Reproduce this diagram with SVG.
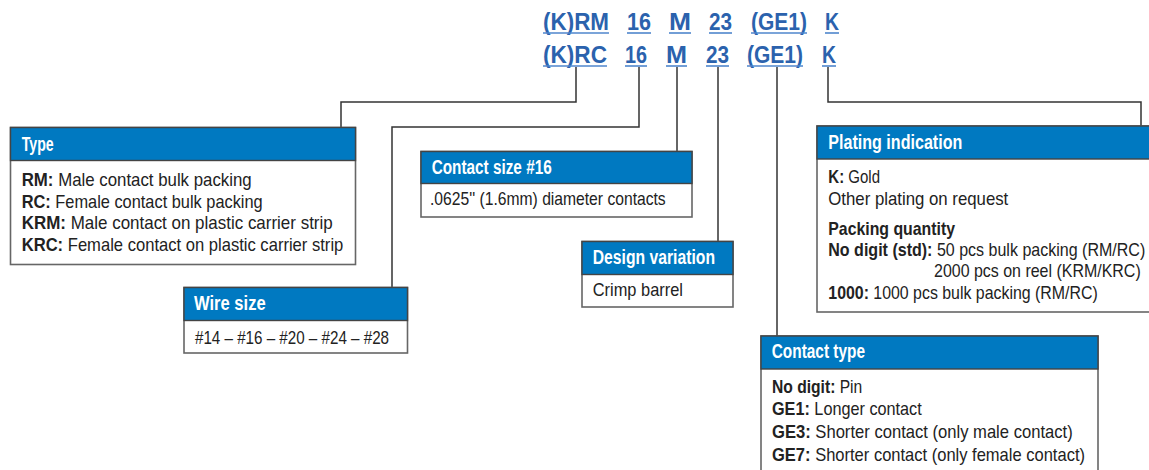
<svg xmlns="http://www.w3.org/2000/svg" width="1149" height="470" viewBox="0 0 1149 470">
<style>
text{font-family:"Liberation Sans",Arial,sans-serif;}
.code{font-size:24px;font-weight:bold;fill:#2b62ad;}
.ul{stroke:#4f86cc;stroke-width:1.6;}
.box{fill:#fff;stroke:#666;stroke-width:1.6;}
.hd{fill:#0079c1;stroke:#444;stroke-width:1.4;}
.ht{font-size:19.5px;font-weight:bold;fill:#fff;}
.bt{font-size:18.5px;fill:#222;}
.b{font-weight:bold;}
.con{fill:none;stroke:#333;stroke-width:1.5;}
</style>
<rect width="1149" height="470" fill="#fff"/>
<g id="code">
<text class="code" x="543" y="29.5" textLength="66" lengthAdjust="spacingAndGlyphs">(K)RM</text>
<text class="code" x="627" y="29.5" textLength="24" lengthAdjust="spacingAndGlyphs">16</text>
<text class="code" x="669" y="29.5" textLength="22" lengthAdjust="spacingAndGlyphs">M</text>
<text class="code" x="709" y="29.5" textLength="23" lengthAdjust="spacingAndGlyphs">23</text>
<text class="code" x="751" y="29.5" textLength="56" lengthAdjust="spacingAndGlyphs">(GE1)</text>
<text class="code" x="825" y="29.5" textLength="14" lengthAdjust="spacingAndGlyphs">K</text>
<text class="code" x="543" y="62.5" textLength="64" lengthAdjust="spacingAndGlyphs">(K)RC</text>
<text class="code" x="625" y="62.5" textLength="22" lengthAdjust="spacingAndGlyphs">16</text>
<text class="code" x="666" y="62.5" textLength="21" lengthAdjust="spacingAndGlyphs">M</text>
<text class="code" x="706" y="62.5" textLength="23" lengthAdjust="spacingAndGlyphs">23</text>
<text class="code" x="747" y="62.5" textLength="56" lengthAdjust="spacingAndGlyphs">(GE1)</text>
<text class="code" x="822" y="62.5" textLength="14" lengthAdjust="spacingAndGlyphs">K</text>
<line class="ul" x1="543" y1="33" x2="609" y2="33"/>
<line class="ul" x1="627" y1="33" x2="651" y2="33"/>
<line class="ul" x1="669" y1="33" x2="691" y2="33"/>
<line class="ul" x1="709" y1="33" x2="732" y2="33"/>
<line class="ul" x1="751" y1="33" x2="807" y2="33"/>
<line class="ul" x1="825" y1="33" x2="839" y2="33"/>
<line class="ul" x1="543" y1="66" x2="607" y2="66"/>
<line class="ul" x1="625" y1="66" x2="647" y2="66"/>
<line class="ul" x1="666" y1="66" x2="687" y2="66"/>
<line class="ul" x1="706" y1="66" x2="729" y2="66"/>
<line class="ul" x1="747" y1="66" x2="803" y2="66"/>
<line class="ul" x1="822" y1="66" x2="836" y2="66"/>
</g>
<g id="connectors">
<polyline class="con" points="576,67 576,102 341,102 341,127"/>
<polyline class="con" points="639,67 639,127 392,127 392,287"/>
<polyline class="con" points="677,67 677,151"/>
<polyline class="con" points="718,67 718,241"/>
<polyline class="con" points="777,67 777,336"/>
<polyline class="con" points="828,67 828,102 1141,102 1141,126"/>
</g>
<g id="type">
<rect class="box" x="10.5" y="127.5" width="345" height="137"/>
<rect class="hd" x="10.5" y="127.5" width="345" height="33"/>
<text class="ht" x="21.7" y="150.5" textLength="32" lengthAdjust="spacingAndGlyphs">Type</text>
<text class="bt" x="21.7" y="186" textLength="230" lengthAdjust="spacingAndGlyphs"><tspan class="b">RM:</tspan> Male contact bulk packing</text>
<text class="bt" x="21.7" y="207.5" textLength="241" lengthAdjust="spacingAndGlyphs"><tspan class="b">RC:</tspan> Female contact bulk packing</text>
<text class="bt" x="21.7" y="229" textLength="311" lengthAdjust="spacingAndGlyphs"><tspan class="b">KRM:</tspan> Male contact on plastic carrier strip</text>
<text class="bt" x="21.7" y="251" textLength="321.6" lengthAdjust="spacingAndGlyphs"><tspan class="b">KRC:</tspan> Female contact on plastic carrier strip</text>
</g>
<g id="wire">
<rect class="box" x="184" y="287.5" width="223.5" height="65.5"/>
<rect class="hd" x="184" y="287.5" width="223.5" height="33"/>
<text class="ht" x="194" y="309.5" textLength="71.7" lengthAdjust="spacingAndGlyphs">Wire size</text>
<text class="bt" x="195" y="344" textLength="194" lengthAdjust="spacingAndGlyphs">#14 – #16 – #20 – #24 – #28</text>
</g>
<g id="contactsize">
<rect class="box" x="421" y="151.5" width="271" height="65.5"/>
<rect class="hd" x="421" y="151.5" width="271" height="32"/>
<text class="ht" x="431.7" y="173.8" textLength="120" lengthAdjust="spacingAndGlyphs">Contact size #16</text>
<text class="bt" x="430" y="205" textLength="235.7" lengthAdjust="spacingAndGlyphs">.0625'' (1.6mm) diameter contacts</text>
</g>
<g id="design">
<rect class="box" x="582" y="241.5" width="151" height="65.5"/>
<rect class="hd" x="582" y="241.5" width="151" height="33"/>
<text class="ht" x="592.7" y="263.8" textLength="122.3" lengthAdjust="spacingAndGlyphs">Design variation</text>
<text class="bt" x="592.7" y="296" textLength="90.3" lengthAdjust="spacingAndGlyphs">Crimp barrel</text>
</g>
<g id="plating">
<rect class="box" x="817" y="126" width="345" height="186"/>
<rect class="hd" x="817" y="126" width="345" height="33"/>
<text class="ht" x="828.3" y="148.8" textLength="134" lengthAdjust="spacingAndGlyphs">Plating indication</text>
<text class="bt" x="828.3" y="182.7" textLength="51.7" lengthAdjust="spacingAndGlyphs"><tspan class="b">K:</tspan> Gold</text>
<text class="bt" x="828.3" y="205" textLength="180" lengthAdjust="spacingAndGlyphs">Other plating on request</text>
<text class="bt b" x="828.3" y="235" textLength="126.7" lengthAdjust="spacingAndGlyphs">Packing quantity</text>
<text class="bt" x="828.3" y="255.7" textLength="317" lengthAdjust="spacingAndGlyphs"><tspan class="b">No digit (std):</tspan> 50 pcs bulk packing (RM/RC)</text>
<text class="bt" x="934" y="276.7" textLength="206.7" lengthAdjust="spacingAndGlyphs">2000 pcs on reel (KRM/KRC)</text>
<text class="bt" x="828.3" y="299.3" textLength="269.4" lengthAdjust="spacingAndGlyphs"><tspan class="b">1000:</tspan> 1000 pcs bulk packing (RM/RC)</text>
</g>
<g id="contacttype">
<rect class="box" x="761" y="336" width="337" height="150"/>
<rect class="hd" x="761" y="336" width="337" height="33"/>
<text class="ht" x="771.7" y="357.8" textLength="93.3" lengthAdjust="spacingAndGlyphs">Contact type</text>
<text class="bt" x="772" y="392.7" textLength="90.3" lengthAdjust="spacingAndGlyphs"><tspan class="b">No digit:</tspan> Pin</text>
<text class="bt" x="772" y="415" textLength="149.7" lengthAdjust="spacingAndGlyphs"><tspan class="b">GE1:</tspan> Longer contact</text>
<text class="bt" x="772" y="438.3" textLength="300.7" lengthAdjust="spacingAndGlyphs"><tspan class="b">GE3:</tspan> Shorter contact (only male contact)</text>
<text class="bt" x="772" y="460.7" textLength="313" lengthAdjust="spacingAndGlyphs"><tspan class="b">GE7:</tspan> Shorter contact (only female contact)</text>
</g>
</svg>
